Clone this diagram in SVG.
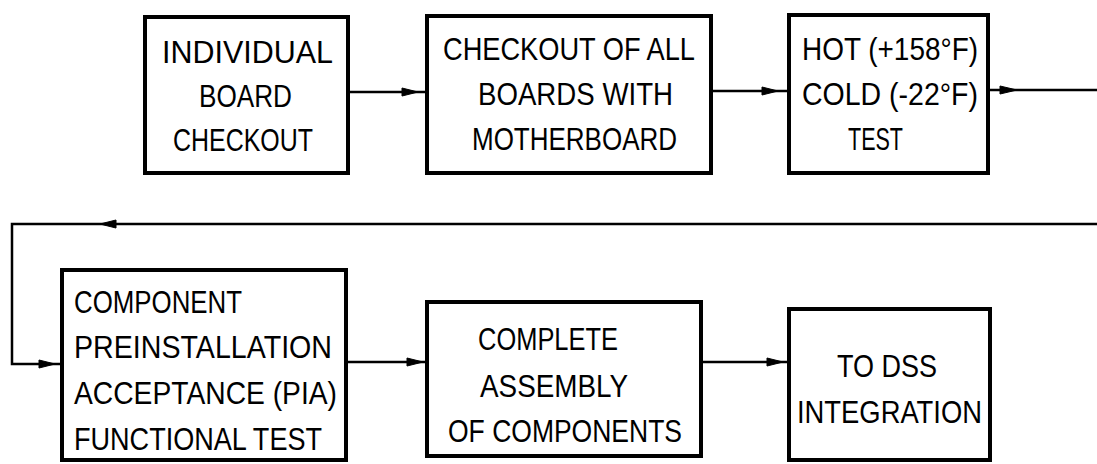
<svg xmlns="http://www.w3.org/2000/svg" width="1097" height="464" viewBox="0 0 1097 464">
<style>
.box{fill:#fff;stroke:#000;stroke-width:4}
.t{font-family:"Liberation Sans",Arial,sans-serif;font-size:32px;fill:#000}
.ln{fill:none;stroke:#000;stroke-width:2.5}
.ah{fill:#000;stroke:#000;stroke-width:1}
</style>
<rect width="1097" height="464" fill="#fff"/>
<g id="connectors">
<path class="ln" d="M350,92 L425,92"/>
<polygon class="ah" points="418,92 402,88 402,96"/>
<path class="ln" d="M713,91 L787,91"/>
<polygon class="ah" points="778,91 762,87 762,95"/>
<path class="ln" d="M990,90 L1097,90"/>
<polygon class="ah" points="1017,90 1000,86 1000,94"/>
<path class="ln" d="M1097,224 L12,224 L12,364 L60,364"/>
<polygon class="ah" points="100,224 116,220 116,228"/>
<polygon class="ah" points="55,364 39,360 39,368"/>
<path class="ln" d="M348,362 L425,362"/>
<polygon class="ah" points="423,362 407,358 407,366"/>
<path class="ln" d="M703,362 L787,362"/>
<polygon class="ah" points="783,362 767,358 767,366"/>
</g>
<g id="node1">
<rect class="box" x="145" y="17" width="203" height="156"/>
<text class="t" x="162" y="63" textLength="171" lengthAdjust="spacingAndGlyphs">INDIVIDUAL</text>
<text class="t" x="199" y="107" textLength="93" lengthAdjust="spacingAndGlyphs">BOARD</text>
<text class="t" x="173" y="151" textLength="140" lengthAdjust="spacingAndGlyphs">CHECKOUT</text>
</g>
<g id="node2">
<rect class="box" x="427" y="16" width="284" height="157"/>
<text class="t" x="443" y="60" textLength="252" lengthAdjust="spacingAndGlyphs">CHECKOUT OF ALL</text>
<text class="t" x="478" y="105" textLength="195" lengthAdjust="spacingAndGlyphs">BOARDS WITH</text>
<text class="t" x="472" y="150" textLength="205" lengthAdjust="spacingAndGlyphs">MOTHERBOARD</text>
</g>
<g id="node3">
<rect class="box" x="789" y="15" width="199" height="158"/>
<text class="t" x="802" y="60" textLength="176" lengthAdjust="spacingAndGlyphs">HOT (+158°F)</text>
<text class="t" x="802" y="105" textLength="176" lengthAdjust="spacingAndGlyphs">COLD (-22°F)</text>
<text class="t" x="848" y="150" textLength="55" lengthAdjust="spacingAndGlyphs">TEST</text>
</g>
<g id="node4">
<rect class="box" x="62" y="270" width="284" height="190"/>
<text class="t" x="74" y="313" textLength="168" lengthAdjust="spacingAndGlyphs">COMPONENT</text>
<text class="t" x="74" y="358" textLength="258" lengthAdjust="spacingAndGlyphs">PREINSTALLATION</text>
<text class="t" x="74" y="404" textLength="263" lengthAdjust="spacingAndGlyphs">ACCEPTANCE (PIA)</text>
<text class="t" x="74" y="450" textLength="248" lengthAdjust="spacingAndGlyphs">FUNCTIONAL TEST</text>
</g>
<g id="node5">
<rect class="box" x="427" y="302" width="274" height="154"/>
<text class="t" x="478" y="350" textLength="140" lengthAdjust="spacingAndGlyphs">COMPLETE</text>
<text class="t" x="480" y="397" textLength="148" lengthAdjust="spacingAndGlyphs">ASSEMBLY</text>
<text class="t" x="448" y="442" textLength="234" lengthAdjust="spacingAndGlyphs">OF COMPONENTS</text>
</g>
<g id="node6">
<rect class="box" x="789" y="309" width="201" height="151"/>
<text class="t" x="837" y="377" textLength="100" lengthAdjust="spacingAndGlyphs">TO DSS</text>
<text class="t" x="797" y="423" textLength="185" lengthAdjust="spacingAndGlyphs">INTEGRATION</text>
</g>
</svg>
